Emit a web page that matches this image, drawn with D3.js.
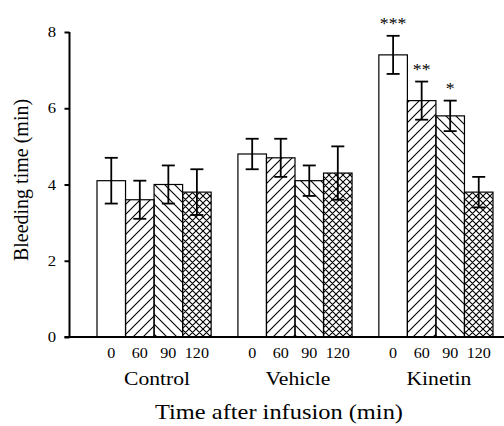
<!DOCTYPE html>
<html>
<head>
<meta charset="utf-8">
<script src="https://cdn.jsdelivr.net/npm/d3@7"></script>
<style>
  html, body { margin: 0; padding: 0; background: #fff; }
  svg { display: block; }
</style>
</head>
<body>
<svg id="chart" width="504" height="426"></svg>
<script>
// ---- data ----
const groups = ["Control", "Vehicle", "Kinetin"];
const times = ["0", "60", "90", "120"];
const controlMeans = [4.1, 3.6, 4.0, 3.8];
const controlHigh  = [4.7, 4.1, 4.5, 4.4];
const controlLow   = [3.5, 3.1, 3.5, 3.2];
const vehicleMeans = [4.8, 4.7, 4.1, 4.3];
const vehicleHigh  = [5.2, 5.2, 4.5, 5.0];
const vehicleLow   = [4.4, 4.2, 3.7, 3.6];
const kinetinMeans = [7.4, 6.2, 5.8, 3.8];
const kinetinHigh  = [7.9, 6.7, 6.2, 4.2];
const kinetinLow   = [6.9, 5.7, 5.4, 3.4];
const kinetinStars = ["***", "**", "*", ""];
const yTicks = [0, 2, 4, 6, 8];
const yLabel = "Bleeding time (min)";
const xLabel = "Time after infusion (min)";

const means = [controlMeans, vehicleMeans, kinetinMeans];
const highs = [controlHigh, vehicleHigh, kinetinHigh];
const lows = [controlLow, vehicleLow, kinetinLow];
const stars = [["", "", "", ""], ["", "", "", ""], kinetinStars];

const rows = [];
groups.forEach((g, gi) => times.forEach((t, ti) => rows.push({
  group: g, time: t, ti, value: means[gi][ti], hi: highs[gi][ti], lo: lows[gi][ti], star: stars[gi][ti]
})));

// ---- layout ----
const FONT = '"Liberation Serif", "Times New Roman", serif';
const SX = 1.11; // horizontal stretch of the reference lettering
const svg = d3.select("#chart");
const axisX = 69.5, baseY = 337;
const y = d3.scaleLinear().domain([0, 8]).range([baseY, 32]);
const x0 = d3.scaleBand().domain(groups).range([97, 493]).paddingInner(0.19).paddingOuter(0);
const x1 = d3.scaleBand().domain(times).range([0, x0.bandwidth()]).padding(0);

function label(parent, x, yy, txt, size, anchor) {
  const g = parent.append("g").attr("transform", `translate(${x},${yy}) scale(${SX},1)`);
  g.append("text").attr("x", 0).attr("y", 0)
    .attr("text-anchor", anchor || "middle")
    .attr("font-size", size)
    .style("font-family", FONT)
    .attr("fill", "#000")
    .text(txt);
  return g;
}

// ---- patterns ----
const defs = svg.append("defs");
const p60 = defs.append("pattern").attr("id", "p60").attr("patternUnits", "userSpaceOnUse")
  .attr("width", 10).attr("height", 10);
p60.append("path").attr("d", "M0,10 L10,0 M-2,2 L2,-2 M8,12 L12,8")
  .attr("stroke", "#000").attr("stroke-width", 1.1).attr("fill", "none");
const p90 = defs.append("pattern").attr("id", "p90").attr("patternUnits", "userSpaceOnUse")
  .attr("width", 10).attr("height", 10);
p90.append("path").attr("d", "M0,0 L10,10 M-2,8 L2,12 M8,-2 L12,2")
  .attr("stroke", "#000").attr("stroke-width", 1.1).attr("fill", "none");
const p120 = defs.append("pattern").attr("id", "p120").attr("patternUnits", "userSpaceOnUse")
  .attr("width", 7).attr("height", 7);
p120.append("path").attr("d", "M0,7 L7,0 M-2,2 L2,-2 M5,9 L9,5 M0,0 L7,7 M-2,5 L2,9 M5,-2 L9,2")
  .attr("stroke", "#000").attr("stroke-width", 1.1).attr("fill", "none");
const fills = { "0": "#fff", "60": "url(#p60)", "90": "url(#p90)", "120": "url(#p120)" };

// ---- bars ----
const bx = d => x0(d.group) + x1(d.time);
svg.append("g").selectAll("rect").data(rows).join("rect")
  .attr("x", bx)
  .attr("y", d => y(d.value))
  .attr("width", x1.bandwidth())
  .attr("height", d => baseY - y(d.value))
  .attr("fill", d => fills[d.time])
  .attr("stroke", "#000").attr("stroke-width", 1.2);

// ---- error bars ----
const eb = svg.append("g").attr("stroke", "#000").attr("stroke-width", 1.8).attr("fill", "none");
rows.forEach(d => {
  const cx = bx(d) + x1.bandwidth() / 2;
  eb.append("line").attr("x1", cx).attr("x2", cx).attr("y1", y(d.hi)).attr("y2", y(d.lo));
  eb.append("line").attr("x1", cx - 6.5).attr("x2", cx + 6.5).attr("y1", y(d.hi)).attr("y2", y(d.hi));
  eb.append("line").attr("x1", cx - 6.5).attr("x2", cx + 6.5).attr("y1", y(d.lo)).attr("y2", y(d.lo));
});

// ---- significance stars ----
const sg = svg.append("g");
rows.filter(d => d.star).forEach(d => {
  label(sg, bx(d) + x1.bandwidth() / 2, y(d.hi) - 7, d.star, 16);
});

// ---- axes ----
const yAxis = d3.axisLeft(y).tickValues(yTicks).tickSize(5).tickFormat("");
const gy = svg.append("g").attr("transform", `translate(${axisX},0)`).call(yAxis);
gy.select(".domain").attr("stroke-width", 2).attr("d", `M0,${y(8)}V${baseY}`);
gy.selectAll(".tick line").attr("stroke-width", 2);
yTicks.forEach(v => label(svg, 56, y(v) + 5, d3.format("d")(v), 15, "end"));

svg.append("line").attr("x1", axisX - 5).attr("x2", 504).attr("y1", baseY).attr("y2", baseY)
  .attr("stroke", "#000").attr("stroke-width", 2);

// time labels
const tg = svg.append("g");
rows.forEach(d => label(tg, bx(d) + x1.bandwidth() / 2, 358, d.time, 14.5));

// group labels
const gg = svg.append("g");
groups.forEach(g => label(gg, x0(g) + x0.bandwidth() / 2 + 3, 385, g, 19.5));

// axis titles
label(svg, 279, 419, xLabel, 22);
svg.append("text").attr("transform", "translate(28,180) rotate(-90)").attr("text-anchor", "middle")
  .attr("font-size", 20).style("font-family", FONT).attr("fill", "#000").text(yLabel);
</script>
</body>
</html>
